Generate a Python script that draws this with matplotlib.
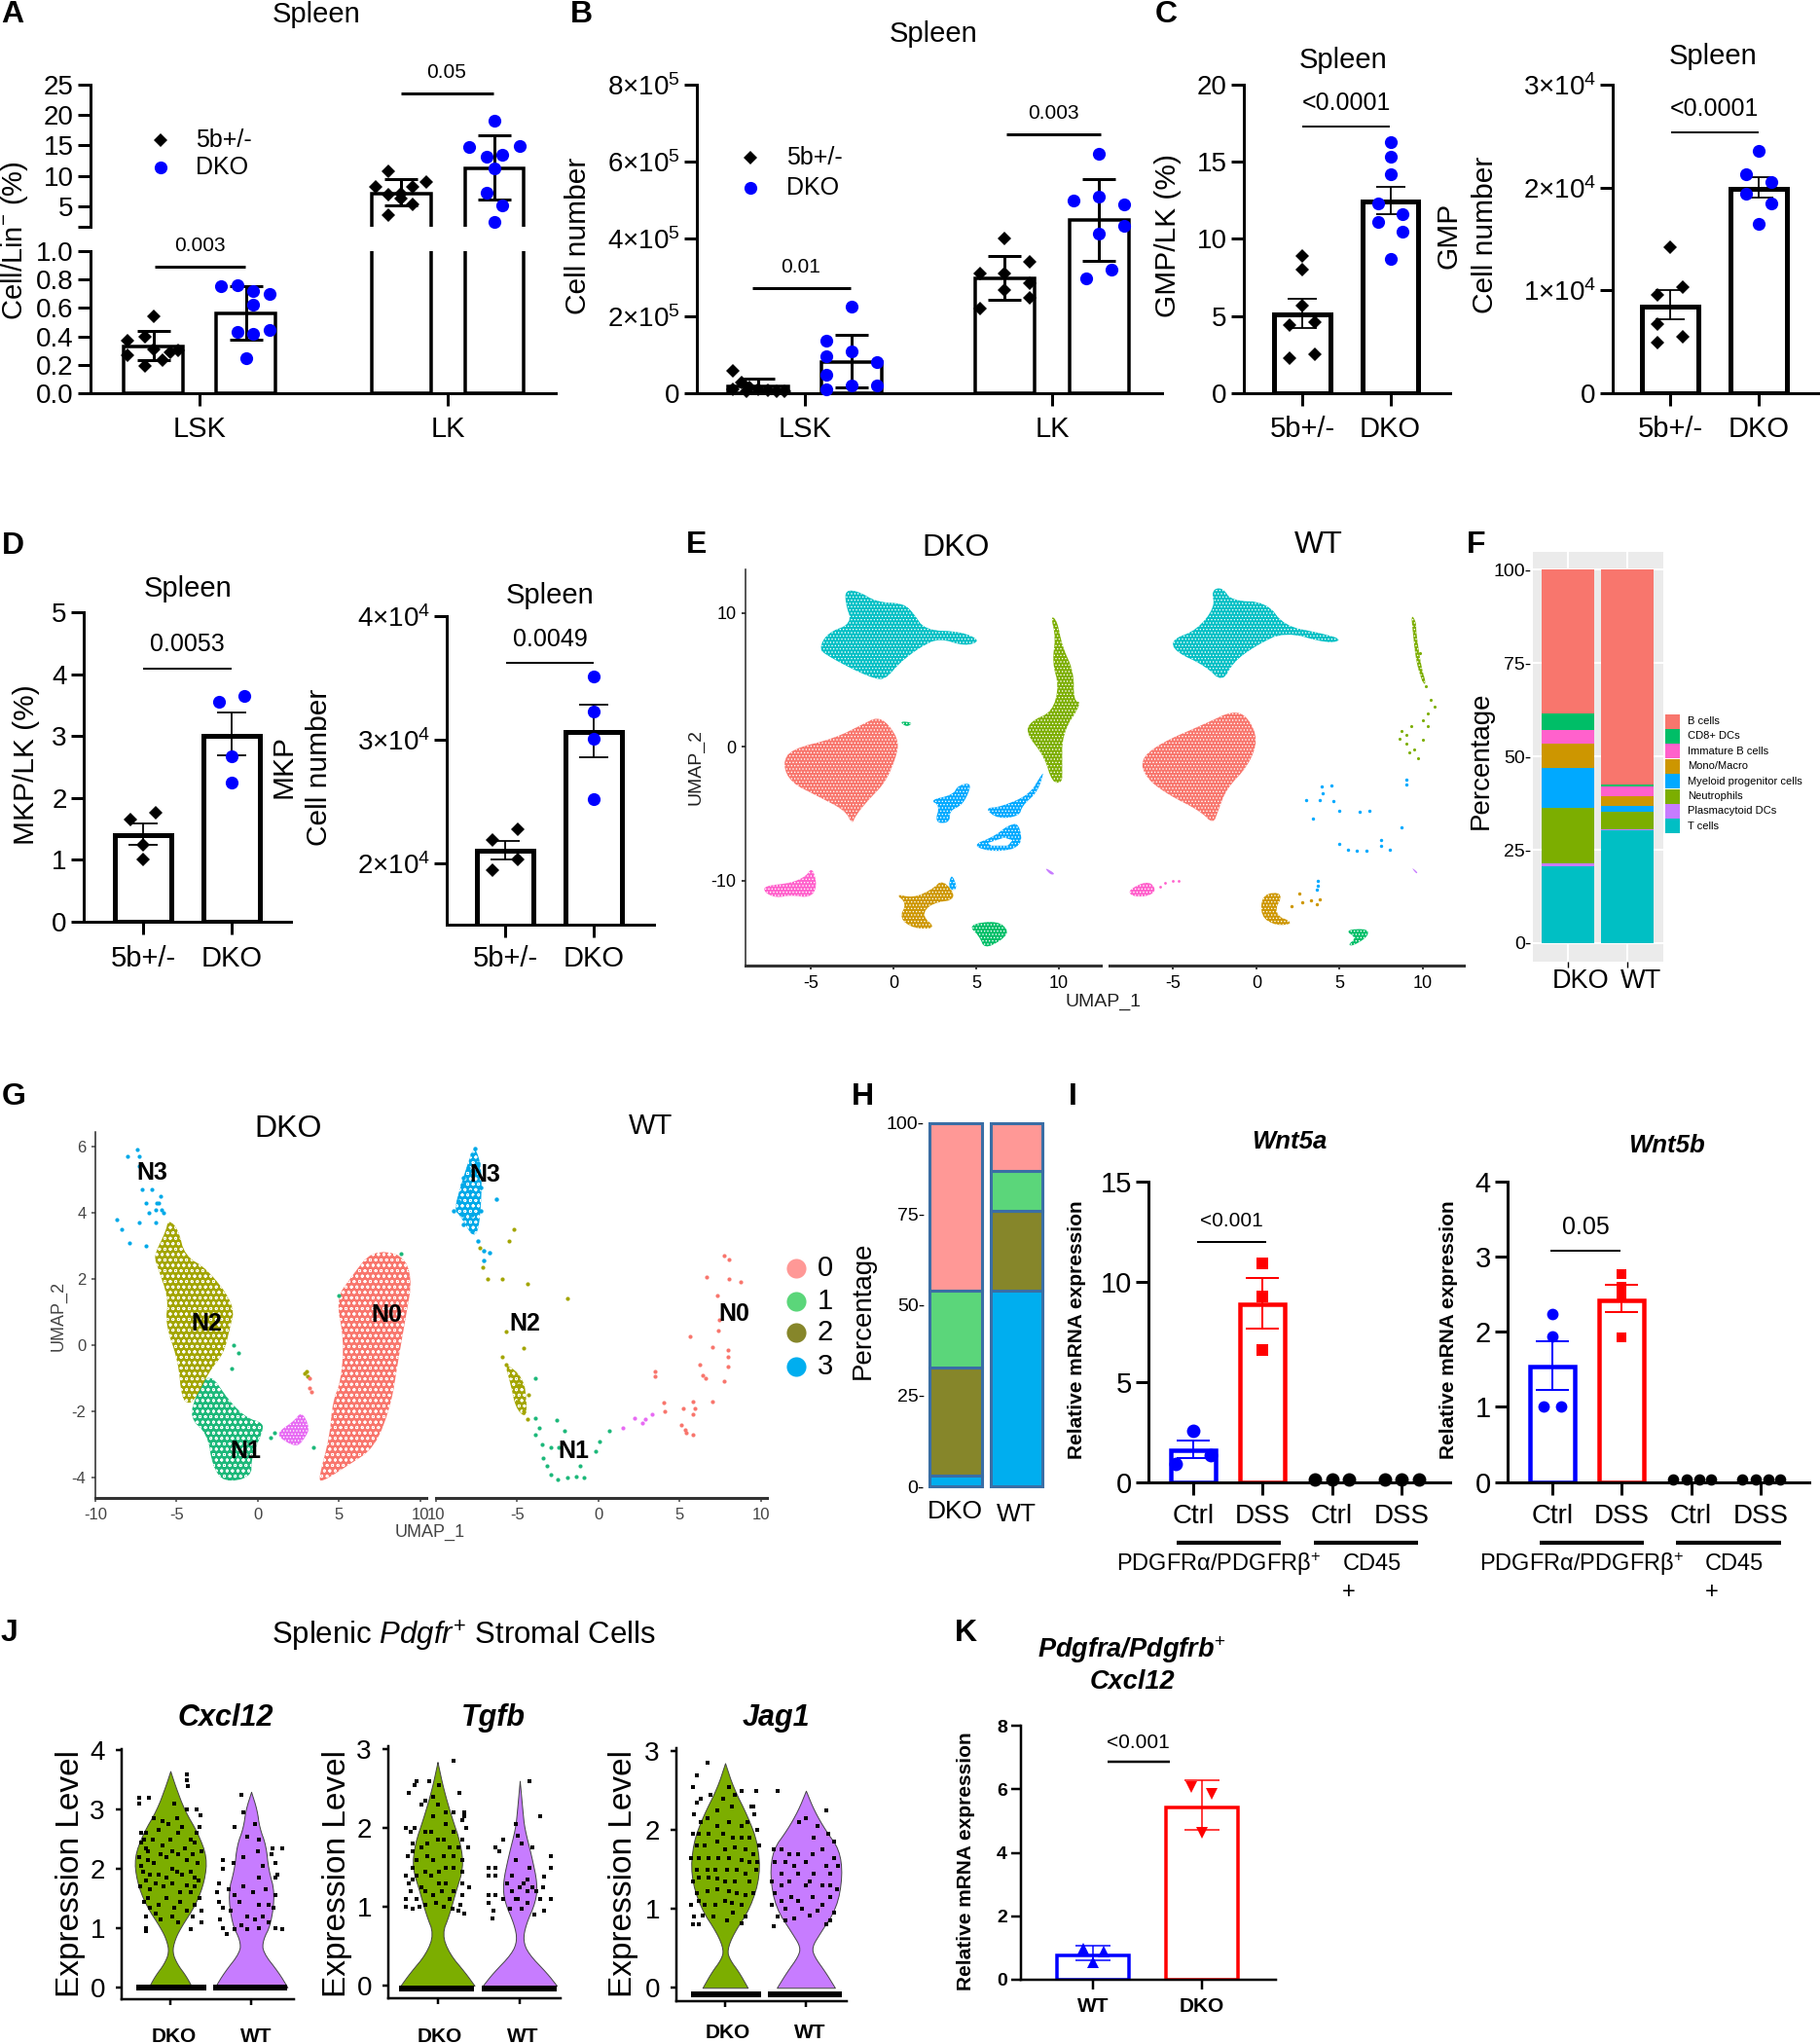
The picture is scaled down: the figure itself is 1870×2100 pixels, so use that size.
import numpy as np
import matplotlib
matplotlib.use("Agg")
import matplotlib.pyplot as plt

plt.rcParams['font.family'] = ['Liberation Sans', 'DejaVu Sans']
plt.rcParams['mathtext.fontset'] = 'custom'
plt.rcParams['mathtext.rm'] = 'Liberation Sans'
plt.rcParams['mathtext.it'] = 'Liberation Sans:italic'
plt.rcParams['mathtext.bf'] = 'Liberation Sans:bold'
plt.rcParams['mathtext.bfit'] = 'Liberation Sans:italic:bold'
plt.rcParams['mathtext.default'] = 'regular'
plt.rcParams['axes.unicode_minus'] = False
plt.rcParams['hatch.linewidth'] = 0.6

W, H = 1870, 2100
BLUE, RED = '#0000FF', '#FF0000'

# ---- A: Cell/Lin- (%)
a_means = [0.33, 0.565, 7.1, 11.2]
a_lo = [0.23, 0.38, 5.2, 6.1]
a_hi = [0.435, 0.755, 9.5, 16.6]
a1_dx = [0, -.28, -.09, -.28, 0, .27, -.09, .1, .18]
a1_y = [.54, .37, .40, .27, .31, .30, .19, .23, .29]
a2_dx = [-.27, -.09, .08, .26, .08, -.09, .08, .26, 0]
a2_y = [.75, .76, .72, .70, .62, .43, .42, .445, .245]
a3_dx = [-.14, .27, -.27, .13, 0, -.14, .13, 0, -.14]
a3_y = [10.7, 8.9, 8.1, 8.2, 7.0, 6.9, 5.3, 6.2, 3.5]
a4_dx = [0, -.27, .27, -.09, .08, 0, -.09, .08, 0]
a4_y = [19, 14.8, 14.9, 13.2, 13.4, 11.2, 7.2, 5.2, 2.4]

# ---- B: cell number, in units of 1e5
b_means = [.17, .82, 2.97, 4.48]
b_lo = [.03, .15, 2.42, 3.43]
b_hi = [.37, 1.52, 3.55, 5.55]
b1_dx = [-.27, -.18, -.27, -.09, 0, .1, .2, .28, -.12]
b1_y = [.59, .28, .11, .15, .11, .07, .06, .06, .05]
b2_dx = [0, -.27, 0, -.27, .27, -.27, 0, .27, -.27]
b2_y = [2.24, 1.37, 1.09, .95, .82, .49, .21, .19, .11]
b3_dx = [0, .27, -.27, 0, .27, 0, .27, -.27]
b3_y = [4.02, 3.4, 3.1, 3.1, 2.84, 2.67, 2.48, 2.2]
b4_dx = [0, -.27, 0, .27, .27, 0, .13, -.14]
b4_y = [6.2, 5.0, 5.1, 4.9, 4.35, 4.15, 3.2, 2.97]

# ---- C
c1_means = [5.1, 12.45]
c1_lo = [4.2, 11.6]
c1_hi = [6.15, 13.4]
c1a_dx = [0, 0, 0, .14, -.14, .14, -.14]
c1a_y = [8.9, 8.0, 5.7, 4.6, 4.4, 2.5, 2.3]
c1b_dx = [0, 0, 0, -.14, .14, -.14, .14, 0]
c1b_y = [16.3, 15.3, 14.2, 12.3, 11.6, 11.1, 10.5, 8.7]
c2_means = [.843, 1.99]
c2_lo = [.717, 1.905]
c2_hi = [1.0, 2.1]
c2a_dx = [0, .14, -.14, -.14, .14, -.14]
c2a_y = [1.415, 1.03, .96, .67, .55, .49]
c2b_dx = [0, -.14, .14, -.14, .14, 0]
c2b_y = [2.36, 2.13, 2.05, 1.94, 1.85, 1.65]

# ---- D
d1_means = [1.4, 3.0]
d1_lo = [1.24, 2.69]
d1_hi = [1.59, 3.38]
d1a_dx = [.14, -.14, 0, 0]
d1a_y = [1.76, 1.65, 1.24, 1.0]
d1b_dx = [.14, -.14, 0, 0]
d1b_y = [3.65, 3.55, 2.67, 2.25]
d2_means = [2.1, 3.06]
d2_lo = [2.03, 2.86]
d2_hi = [2.18, 3.28]
d2a_dx = [.14, -.14, .14, -.14]
d2a_y = [2.27, 2.19, 2.03, 1.94]
d2b_dx = [0, 0, 0, 0]
d2b_y = [3.51, 3.23, 3.01, 2.52]

# ---- E: UMAP outlines, DKO
e_d_t_x = [-2.9, -2.1, -1, .6, 1.2, 1.9, 4.1, 5.3, 4.3, 2.8, 1.7, .4, -.5, -1.2, -2.5, -4, -4.5, -4, -2.5, -2.9]
e_d_t_y = [11.7, 11.6, 10.8, 10.7, 10, 8.7, 8.6, 7.9, 7.5, 8.1, 7.5, 6.3, 5, 5.1, 5.8, 6.8, 7.3, 8.5, 9.2, 10.7]
e_d_b_x = [-1, -.3, .35, .1, -.5, -1.6, -2.3, -2.5, -2.9, -4.5, -6.2, -6.7, -6.2, -3.6, -1.8]
e_d_b_y = [2.2, 1.7, .35, -1, -2.7, -4.1, -5.2, -5.8, -4.8, -3.75, -2.7, -1.3, -.2, .6, 1.7]
e_d_n_x = [9.5, 9.9, 10.2, 10.9, 10.9, 11.4, 10.2, 10.2, 10.2, 9.6, 9.1, 8, 8.3, 9.6, 10, 9.6, 9.8]
e_d_n_y = [9.8, 9.4, 7.5, 5.6, 3.4, 3.3, 1, -1.7, -2.7, -2.7, -.7, 1, 1.9, 2.6, 4.5, 6.3, 8.2]
e_d_m1_x = [4.7, 4.5, 4.1, 3.4, 3.4, 2.5, 2.8, 2.2, 3.6, 3.9]
e_d_m1_y = [-2.7, -3.6, -4.4, -4.8, -5.7, -5.7, -4.4, -4, -3.6, -2.9]
e_d_m2_x = [9.1, 8.7, 7.8, 7.6, 6.3, 5.5, 6.5, 8.2, 8.9]
e_d_m2_y = [-1.9, -3.4, -4.4, -5.2, -5.4, -4.6, -4.5, -3.6, -2.2]
e_d_m3_x = [7.6, 7.8, 6.1, 4.7, 6.1, 6.9]
e_d_m3_y = [-5.7, -7.5, -7.9, -7.4, -6.7, -5.9]
e_d_m3h_x = [6.7, 7.2, 6.9, 5.9, 5.7]
e_d_m3h_y = [-6.8, -7, -7.4, -7.4, -7.2]
e_d_m4_x = [3.5, 3.9, 3.3]
e_d_m4_y = [-9.4, -10.7, -10.7]
e_d_i_x = [-4.9, -4.6, -5, -6.2, -7.1, -7.8, -7.8, -6.2, -5.3]
e_d_i_y = [-9, -10.4, -11.3, -11.1, -11.3, -10.9, -10.4, -10.2, -9.7]
e_d_mono_x = [3, 3.9, 2.3, 1.7, 2.6, 1.2, .35, .8, .1, 1.2, 2.3]
e_d_mono_y = [-9.9, -11.4, -11.7, -12.6, -13.6, -13.6, -12.8, -11.7, -11, -11.3, -10.7]
e_d_cd8_x = [4.5, 6.3, 7, 6.5, 5.5, 5.2]
e_d_cd8_y = [-13.3, -13, -13.8, -14.5, -15.1, -14.2]
e_d_cd8b_x = [.35, 1.2, .8]
e_d_cd8b_y = [1.9, 1.8, 1.45]
e_d_p_x = [9.1, 9.8, 9.5]
e_d_p_y = [-9, -9.5, -9.6]

# ---- E: UMAP outlines and sparse cells, WT
e_w_t_x = [-2.7, -2.05, -1.5, .6, 1.7, 3.8, 5.2, 4.3, 1.7, -.1, -1.4, -2.05, -3.1, -4.9, -5.1, -3.6, -2.5]
e_w_t_y = [11.7, 11.9, 10.9, 10.8, 9, 8.5, 8, 7.7, 8.6, 7.5, 6.3, 4.8, 6.05, 7.1, 8, 8.7, 10.4]
e_w_b_x = [-1.4, -.5, .1, -.5, -1.8, -2.3, -2.6, -3.4, -5.3, -6.6, -7, -5.8, -3.1]
e_w_b_y = [2.7, 2.2, .5, -1.45, -3.15, -4.8, -5.8, -4.8, -3.6, -2.4, -1, .25, 1.7]
e_w_n_x = [9.3, 9.6, 9.6, 9.9, 10.2, 10, 9.6, 9.4]
e_w_n_y = [9.9, 9.3, 8.5, 6, 4.7, 4.7, 6.3, 8.5]
e_w_ns_x = [9.8, 10, 10.2, 10.5, 10.7, 10.3, 10, 9.3, 8.7, 8.6, 9, 9.5, 9.7, 9, 10, 10.3, 9.2]
e_w_ns_y = [7, 5, 4.5, 3.5, 3, 2.5, 2, 1.5, 1.2, .6, .2, -.2, -.9, .9, .5, 1.5, -.4]
e_w_ms_x = [3.9, 4.5, 4, 3, 3.8, 4.6, 5, 6.2, 6.8, 3.4, 8.7, 7.5, 7.5, 5, 5.5, 6, 6.6, 8, 9, 9, 3.7, 3.7, 3.65]
e_w_ms_y = [-3, -2.9, -3.5, -4, -4, -4.1, -4.8, -4.9, -4.8, -5.4, -6, -7, -7.4, -7.3, -7.7, -7.8, -7.8, -7.7, -2.5, -2.8, -10, -10.4, -10.7]
e_w_i_x = [-7.7, -6.5, -6, -6.5, -7.5]
e_w_i_y = [-10.7, -10, -10.7, -11.2, -11.2]
e_w_is_x = [-5.5, -5, -4.7, -5.8]
e_w_is_y = [-10.2, -10, -10, -10.5]
e_w_mono_x = [.35, 1.65, 1, 2.3, 1.2, .25]
e_w_mono_y = [-11, -10.9, -12.5, -13.2, -13.4, -12.7]
e_w_monos_x = [2.75, 3.8, 3.6, 2.1, 3.3, 2.6]
e_w_monos_y = [-11.6, -11.4, -11.75, -11.9, -11.5, -11]
e_w_cd8_x = [6.7, 6.7, 5.8, 5.5, 6, 5.3]
e_w_cd8_y = [-13.6, -14.2, -14.9, -14.8, -14.3, -13.7]
e_w_p_x = [9.3, 9.7, 9.6]
e_w_p_y = [-9, -9.4, -9.5]

# ---- F: stacked percentages, bottom to top
f_types = ['T cells', 'Plasmacytoid DCs', 'Neutrophils', 'Myeloid progenitor cells',
           'Mono/Macro', 'Immature B cells', 'CD8+ DCs', 'B cells']
f_colors = ['#00BFC4', '#C77CFF', '#7CAE00', '#00A9FF', '#CD9600', '#FF61CC', '#00BE67', '#F8766D']
f_dko = [20.6, .7, 15, 10.6, 6.6, 3.6, 4.4, 38.6]
f_wt = [30.1, .5, 4.6, 1.5, 2.6, 2.6, .6, 57.5]

# ---- G: DKO
g_d_n3_x = [-7.4, -8, -7.3, -7.3, -7.1, -6.5, -6, -6.9, -6.2, -5.9, -5.8, -6.7, -7.3, -8.7, -8.4, -7.9, -6.9, -6.3, -6.1, -6.3]
g_d_n3_y = [5.9, 5.7, 5.7, 5.4, 4.7, 4.7, 4.5, 4.3, 4.3, 4.1, 4, 4, 3.7, 3.8, 3.5, 3.1, 3, 3.7, 4.3, 4.1]
g_d_n2_x = [-5.5, -4.9, -4.5, -3.1, -1.4, -1.75, -2.1, -3, -3.7, -4.2, -4.7, -4.9, -5.7, -5.5, -6.2, -6.4, -5.7]
g_d_n2_y = [3.8, 3.5, 2.7, 2.3, 1.2, .45, -.25, -.8, -1.5, -1.8, -1.6, -.5, .65, 1.4, 2.4, 2.7, 3.4]
g_d_n1_x = [-3, -1.75, -.7, .3, .3, -.4, -.4, -2.1, -2.8, -3.1, -4.2, -3.8]
g_d_n1_y = [-.8, -1.7, -2.2, -2.35, -2.6, -3.4, -4, -4.15, -3.65, -2.7, -2.2, -1.5]
g_d_n0_x = [7, 8.9, 9.5, 9.1, 8.6, 8.2, 7.2, 5.5, 3.9, 3.75, 4.4, 4.6, 5.1, 5.3, 4.8, 5.8]
g_d_n0_y = [2.85, 2.75, 2, .85, -.55, -1.8, -3.1, -3.65, -4.15, -4, -2.8, -1.7, -1.1, .15, 1.4, 2.1]
g_d_pk_x = [2.7, 3.2, 2.9, 2.4, 1.3, 1.3, 2.2]
g_d_pk_y = [-2, -2.5, -2.8, -3.1, -2.8, -2.6, -2.3]
g_d_green_x = [1, 3.4, -1.5, -1.2, -1.6, 5, 8.8, .8]
g_d_green_y = [-2.65, -3.1, 0, -.25, -.7, 1.5, 2.75, -2.8]
g_d_olive_x = [3, 2.85, 3.05]
g_d_olive_y = [-.8, -.85, -.95]
g_d_salmon_x = [3.2, 3.2, 3.3]
g_d_salmon_y = [-1, -1.3, -1.4]

# ---- G: WT
g_w_n3_x = [-7.6, -7.8, -7.4, -8, -8.3, -8.4, -7.9, -7.6, -7.25, -8.6, -8.95, -8.4, -7.8, -7.25, -8.3, -7.8, -7.4, -7.05, -6.7, -7.05, -6.3]
g_w_n3_y = [5.95, 5.75, 5.5, 5.35, 5.05, 4.85, 4.65, 4.5, 4.75, 4.35, 4.05, 3.95, 3.95, 4.05, 3.65, 3.45, 3.15, 2.85, 2.8, 2.55, 4.4]
g_w_n3p_x = [-7.6, -7.2, -7.2, -7.4, -7.8, -8.5, -8.9, -8.3, -7.9]
g_w_n3p_y = [6, 5.4, 4.4, 3.4, 3.3, 3.9, 4.1, 5.1, 5.7]
g_w_n2_x = [-5.2, -5.5, -7.3, -7.1, -6.85, -5.95, -4.4, -1.9, -5.7, -4.6, -5.9, -5.7, -5.4, -4.9, -4.3, -5, -4.6, -4.4]
g_w_n2_y = [3.5, 3.15, 2.95, 2.35, 2, 2, 1.85, 1.4, .4, -.1, -.35, -.6, -.9, -1.2, -1.5, -1.7, -2, -2.25]
g_w_n2p_x = [-5.8, -4.6, -4.4, -4.5, -5.1, -5.4]
g_w_n2p_y = [-.5, -1, -1.8, -2.2, -1.9, -1.2]
g_w_n1_x = [-3.9, -2.6, -2.1, -3.65, -3.9, -3.5, -2.95, -3.4, -3.2, -2.95, -2.5, -1.9, -1.4, -.9, -1.15, -.2, .05, .65, -3.9, -2.45]
g_w_n1_y = [-2.2, -2.27, -2.6, -2.5, -2.7, -3, -3.1, -3.4, -3.65, -3.9, -4.05, -4, -3.98, -4, -3.65, -3.2, -2.9, -2.6, -1, -3.1]
g_w_pk_x = [1.5, 2.2, 2.7, 2.9, 3.3]
g_w_pk_y = [-2.5, -2.2, -2.35, -2.25, -2.1]
g_w_n0_x = [7.7, 8.05, 6.65, 8.05, 8.75, 7.3, 7.45, 7.35, 5.65, 7, 7.95, 7.95, 6.2, 7.95, 6.4, 6.6, 3.5, 3.5, 7.7, 7, 5.8, 5.95, 4, 4.1, 5.2, 5.8, 5.1, 5.3, 5.8, 5.4]
g_w_n0_y = [2.7, 2.6, 2.05, 2, 1.9, 1.5, .75, .45, .25, -.05, -.15, -.35, -.6, -.65, -.9, -1, -.8, -.95, -1.1, -1.7, -1.7, -1.9, -1.75, -2, -1.9, -2.1, -2.4, -2.55, -2.7, -2.65]

# ---- H: stacked percentages, cluster 3 at the bottom
h_colors = ['#00AEEF', '#86862A', '#5BD67A', '#FF9896']
h_dko = [2.9, 29.9, 21.1, 46.1]
h_wt = [53.9, 22, 10.9, 13.2]

# ---- I
i1_means = [1.56, 8.84]
i1_lo = [1.18, 7.63]
i1_hi = [2.08, 10.16]
i1a_dx = [0, .25, -.25]
i1a_y = [2.53, 1.35, .92]
i1b_y = [10.9, 9.24, 6.6]
i2_means = [1.53, 2.42]
i2_lo = [1.23, 2.26]
i2_hi = [1.87, 2.62]
i2a_dx = [0, 0, -.13, .13]
i2a_y = [2.24, 1.94, 1.0, 1.0]
i2b_y = [2.76, 2.6, 2.47, 1.92]
cd45_dx3 = [-.24, 0, .25]
cd45_y3 = [.1, .1, .1]
cd45_dx4 = [-.26, -.07, .12, .28]
cd45_y4 = [.03, .03, .03, .03]

# ---- J: violin outlines (level, half width) and cells
vl_c_d = [0, .2, .4, .6, .8, 1, 1.4, 1.8, 2.2, 2.6, 3, 3.4, 3.65]
vw_c_d = [.27, .19, .08, .02, .05, .12, .31, .42, .45, .34, .17, .06, 0]
vl_c_w = [0, .25, .6, .8, 1.07, 1.6, 2, 2.4, 2.7, 3, 3.3]
vw_c_w = [.45, .34, .14, .14, .24, .29, .21, .18, .1, .07, 0]
vl_t_d = [0, .16, .41, .66, .9, 1.2, 1.5, 1.8, 2.14, 2.5, 2.84]
vw_t_d = [.45, .34, .14, .05, .14, .22, .31, .28, .17, .07, 0]
vl_t_w = [0, .16, .41, .58, .78, 1.07, 1.3, 1.65, 2, 2.2, 2.6]
vw_t_w = [.45, .33, .1, .035, .07, .19, .21, .14, .055, .035, 0]
vl_j_d = [0, .2, .36, .48, .69, 1.02, 1.43, 1.84, 2.17, 2.54, 2.85]
vw_j_d = [.28, .17, .055, .02, .1, .31, .43, .4, .28, .1, 0]
vl_j_w = [0, .2, .4, .52, .69, 1.02, 1.43, 1.76, 2, 2.25, 2.5]
vw_j_w = [.36, .24, .1, .07, .17, .38, .45, .41, .24, .1, 0]

pc_c_d_x = [-.38, -.38, -.26, .2, .2, .22, .2, .33, .37, .36, -.2, -.3, -.32, -.36, -.28, -.1, .05, 0, -.1, .1, .25, .3, .38, -.38, -.2, -.05, .1, .2, .34, -.34, -.15, .02, .15, .3, -.37, -.25, -.08, .12, .25, .36, -.33, -.15, .05, .2, .38, -.3, -.12, .1, -.3, -.3, .25, .38,
            -.36, -.3, -.22, -.15, -.02, .08, .15, .32, .28, .18, .02, -.12, -.28, -.36, -.25, -.05, .08, .25, .35, -.3, -.18, .02, .2, .3, -.28, -.05, .12, .3, -.18, .02, .28, -.25]
pc_c_d_y = [3.2, 3.1, 3.2, 3.6, 3.5, 3.4, 3, 3, 2.9, 2.7, 2.85, 2.6, 2.5, 2.45, 2.3, 2.8, 3.1, 2.5, 2.4, 2.6, 2.5, 2.45, 2.3, 2.2, 2.1, 2.2, 2.25, 2.15, 2.1, 1.95, 1.9, 2, 1.9, 1.85, 1.7, 1.65, 1.7, 1.6, 1.6, 1.5, 1.45, 1.4, 1.35, 1.3, 1.3, 1.2, 1.15, 1.1, 1, .95, .98, 1.1,
            2.6, 2.35, 2.5, 2.65, 2.75, 2.85, 2.7, 2.6, 2.25, 2.35, 2.3, 2.25, 2.15, 2.05, 1.9, 1.85, 1.95, 1.95, 1.8, 1.8, 1.75, 1.75, 1.72, 1.7, 1.5, 1.5, 1.45, 1.4, 1.25, 1.2, 1.2, 1.35]
pc_c_w_x = [-.12, -.1, -.2, .05, -.05, .1, .38, .26, .25, -.35, -.1, .08, .3, -.35, .32, -.4, .1, -.1, .3, -.42, .02, .3, -.4, -.15, .1, .28, -.35, -.25, -.05, .15, -.38, -.35, .1, .3, .38, -.3, -.05,
            -.22, .15, -.28, .18, -.2, .22, -.12, .22, -.2, .05]
pc_c_w_y = [3.25, 2.95, 2.7, 2.75, 2.55, 2.5, 2.35, 2.35, 2.25, 2.15, 2.2, 2.3, 2.1, 2, 1.9, 1.75, 1.85, 1.7, 1.85, 1.6, 1.6, 1.55, 1.45, 1.45, 1.4, 1.35, 1.35, 1.3, 1.2, 1.2, 1.15, 1, 1, 1, .98, .9, .98,
            2.1, 2.05, 1.65, 1.65, 1.55, 1.4, 1.05, 1.1, .98, 1.15]
pc_t_d_x = [.2, -.25, -.28, -.35, .27, -.05, -.15, 0, .33, .3, .33, -.38, -.32, .1, .35, -.15, 0, .3, -.2, .15, .37, -.36, -.25, -.05, .08, .3, -.38, -.3, -.15, .02, .2, -.35, -.2, .1, .3, .38, -.38, -.25, -.05, .15, .3, -.38, -.3, -.15, .08, .28, .25, .33,
            -.1, .02, -.2, -.05, .1, .2, -.28, -.08, .2, -.3, -.12, .08, .25, -.3, -.12, .2, -.3, -.08, .1, .3, -.25, .02, .2, -.32, -.15, .05, -.22, -.02, .18]
pc_t_d_y = [2.85, 2.6, 2.55, 2.45, 2.45, 2.4, 2.35, 2.3, 2.2, 2.1, 2.15, 2, 1.95, 2.05, 2, 1.95, 1.85, 1.85, 1.75, 1.75, 1.75, 1.65, 1.6, 1.6, 1.65, 1.6, 1.4, 1.5, 1.45, 1.45, 1.5, 1.3, 1.25, 1.3, 1.3, 1.25, 1.1, 1.1, 1.15, 1.1, 1.15, 1, .98, 1.03, 1, 1.02, .95, .92,
            2.6, 2.55, 2.3, 2.15, 2.2, 2.2, 2, 1.95, 1.95, 1.8, 1.8, 1.85, 1.75, 1.7, 1.65, 1.65, 1.35, 1.4, 1.5, 1.45, 1.4, 1.3, 1.2, 1.2, 1.2, 1.2, 1, 1.05, .98]
pc_t_w_x = [.12, .25, -.05, -.3, -.2, -.25, -.02, .02, .15, .38, .38, -.38, -.3, -.38, -.3, .3, -.1, .1, 0, -.1, .15, .25, .38, -.38, -.3, -.38, -.05, .1, .02, -.32, .3, -.33, .18,
            -.05, .12, -.15, .05, -.2, .2, -.12, .1, .28, -.02]
pc_t_w_y = [2.6, 2.15, 2.05, 1.75, 1.85, 1.7, 1.9, 1.8, 1.75, 1.65, 1.5, 1.5, 1.5, 1.4, 1.4, 1.38, 1.4, 1.35, 1.25, 1.2, 1.25, 1.1, 1.1, 1.15, 1.15, 1.05, 1.1, 1.05, .98, .95, .95, .85, .9,
            1.6, 1.5, 1.3, 1.3, 1.1, 1.2, .98, 1.2, 1.25, 1.1]
pc_j_d_x = [-.22, -.35, -.4, .2, .38, -.35, -.02, .35, -.38, -.1, .08, .36, -.3, .05, .2, .4, -.4, -.2, .1, .3, -.35, -.1, 0, .25, .42, -.42, -.2, .05, .3, -.35, -.12, .15, .38, -.4, -.2, 0, .3, -.35, -.1, .15, .35, -.42, -.25, 0, .2, -.38, -.15, .1, .25, -.4, -.33, .2,
            -.3, .05, -.18, .12, -.22, -.1, .28, .32, -.32, -.02, .2, -.25, .12, .35, -.32, -.08, .2, .4, -.22, .02, .25, -.32, -.1, .12, -.22, .05, .25, -.32, -.12, .08, -.28, .02]
pc_j_d_y = [2.85, 2.7, 2.55, 2.5, 2.5, 2.35, 2.4, 2.3, 2.2, 2.25, 2.3, 2.2, 2.1, 2.1, 2.05, 2, 1.95, 1.95, 1.9, 1.9, 1.8, 1.85, 1.75, 1.75, 1.8, 1.65, 1.65, 1.65, 1.6, 1.5, 1.5, 1.5, 1.5, 1.35, 1.4, 1.35, 1.35, 1.2, 1.25, 1.2, 1.2, 1.05, 1.05, 1.1, 1.05, .9, .9, .95, .9, .8, .8, .82,
            2.4, 2.55, 2.45, 2.45, 2.15, 2.05, 2.1, 2.3, 1.95, 1.95, 1.9, 1.8, 1.78, 1.7, 1.65, 1.65, 1.62, 1.6, 1.5, 1.5, 1.45, 1.4, 1.38, 1.35, 1.22, 1.22, 1.18, 1.1, 1.05, 1.08, .92, .85]
pc_j_w_x = [-.35, .25, 0, -.08, .15, .28, .35, -.4, -.2, -.1, .08, .2, .35, -.38, -.25, 0, .4, -.3, -.1, .1, .3, -.42, -.2, 0, .2, .38, -.38, -.18, .08, .3, -.42, -.25, -.05, .15, .35, -.35, -.15, .3, -.4, .25,
            -.3, .1, -.15, .25, -.3, .05, .3, -.3, -.1, .2, .05, -.25]
pc_j_w_y = [2.5, 2.25, 2.15, 2.1, 2.05, 1.95, 1.85, 1.75, 1.7, 1.7, 1.7, 1.75, 1.65, 1.6, 1.6, 1.6, 1.55, 1.45, 1.45, 1.45, 1.45, 1.35, 1.35, 1.3, 1.3, 1.25, 1.2, 1.15, 1.15, 1.15, 1.05, 1, 1, .98, .95, .9, .88, .85, .78, .8,
            1.75, 1.9, 1.55, 1.55, 1.3, 1.35, 1.3, 1.1, 1.1, 1.05, .92, .85]
zero_d_x = [-.39, -.34, -.29, -.24, -.19, -.14, -.09, -.04, .01, .06, .11, .16, .21, .26, .31, .36, .41]
zero_w_x = [-.43, -.37, -.31, -.25, -.19, -.13, -.07, -.01, .05, .11, .17, .23, .29, .35, .41]

# ---- K
k_means = [.78, 5.44]
k_lo = [.6, 4.71]
k_hi = [1.06, 6.27]
k1_dx = [-.09, .095, 0]
k1_y = [.98, .88, .54]
k2_dx = [-.1, .09, 0]
k2_y = [6.07, 5.85, 4.63]

fig = plt.figure(figsize=(W / 100, H / 100), dpi=100, facecolor='white')
ov = fig.add_axes([0, 0, 1, 1])
ov.set_xlim(0, W)
ov.set_ylim(H, 0)
ov.axis('off')
ov.set_zorder(10)


def px_axes(x0, y_top, x1, y_bot):
    return fig.add_axes([x0 / W, 1 - y_bot / H, (x1 - x0) / W, (y_bot - y_top) / H])


def txt(x, y, s, size=21, rot=0, **kw):
    ov.text(x, y, s, fontsize=size, rotation=rot, ha=kw.pop('ha', 'center'), va=kw.pop('va', 'center'), **kw)


def sig(x0, x1, y, s, tx, ty, size=15, lw=2.0):
    ov.plot([x0, x1], [y, y], color='black', lw=lw * .72, solid_capstyle='butt')
    txt(tx, ty, s, size)


def clean(ax, lw=3, tl=13, size=20, pad=3):
    for k in ('top', 'right'):
        ax.spines[k].set_visible(False)
    for k in ('left', 'bottom'):
        ax.spines[k].set_linewidth(lw * .72)
    ax.tick_params(length=tl * .72, width=lw * .72, labelsize=size, pad=pad)
    ax.patch.set_alpha(0)


def xmap(ax, x0, x1, c0, sp):
    ax.set_xlim((x0 - c0) / sp, (x1 - c0) / sp)


def bars(ax, xs, means, lo, hi, colors, width, elw, errlw, cap):
    ax.bar(xs, means, width, facecolor='white', edgecolor=colors, linewidth=elw * .72, zorder=2)
    for x, m, l, h, c in zip(xs, means, lo, hi, colors):
        ax.errorbar(x, m, yerr=[[m - l], [h - m]], color=c, lw=errlw * .72, capsize=cap,
                    capthick=errlw * .72, zorder=3)


def dots(ax, x, dx, y, marker, color, ms):
    ax.plot(x + np.array(dx), y, ls='', marker=marker, color=color, ms=ms, mew=0, clip_on=False, zorder=5)


def rounded(x, y, closed=True, n=2):
    # corner cutting, only rounds the hand read outlines when drawing
    x, y = np.array(x, float), np.array(y, float)
    for _ in range(n):
        if closed:
            x2, y2 = np.roll(x, -1), np.roll(y, -1)
            x = np.column_stack([.75 * x + .25 * x2, .25 * x + .75 * x2]).ravel()
            y = np.column_stack([.75 * y + .25 * y2, .25 * y + .75 * y2]).ravel()
        else:
            xa = np.column_stack([.75 * x[:-1] + .25 * x[1:], .25 * x[:-1] + .75 * x[1:]]).ravel()
            ya = np.column_stack([.75 * y[:-1] + .25 * y[1:], .25 * y[:-1] + .75 * y[1:]]).ravel()
            x = np.r_[x[0], xa, x[-1]]
            y = np.r_[y[0], ya, y[-1]]
    return x, y


# ---- panel A, broken axis
a_pos = [0, 1, 2.68, 3.69]
a_top = px_axes(93, 87, 571, 233)
a_low = px_axes(93, 258, 571, 404)
for ax in (a_top, a_low):
    xmap(ax, 93, 571, 157.5, 95)
    bars(ax, a_pos, a_means, a_lo, a_hi, ['black'] * 4, .64, 3.5, 3, 12)
a_top.set_ylim(1.6, 25)
a_low.set_ylim(0, 1.0)
a_top.set_yticks([1.6, 5, 10, 15, 20, 25], ['', '5', '10', '15', '20', '25'])
a_low.set_yticks([0, .2, .4, .6, .8, 1.0], ['0.0', '0.2', '0.4', '0.6', '0.8', '1.0'])
a_top.set_xticks([])
a_low.set_xticks([.5, 3.185], ['LSK', 'LK'])
clean(a_top)
clean(a_low)
a_low.tick_params(axis='x', labelsize=21, pad=7.5)
a_top.spines['bottom'].set_visible(False)
dots(a_low, a_pos[0], a1_dx, a1_y, 'D', 'black', 7)
dots(a_low, a_pos[1], a2_dx, a2_y, 'o', BLUE, 9.5)
dots(a_top, a_pos[2], a3_dx, a3_y, 'D', 'black', 7)
dots(a_top, a_pos[3], a4_dx, a4_y, 'o', BLUE, 9.5)

# ---- panel B
b_pos = [0, 1, 2.64, 3.65]
ax = px_axes(716, 87, 1194, 404)
xmap(ax, 716, 1194, 779, 96)
bars(ax, b_pos, np.array(b_means) * 1e5, np.array(b_lo) * 1e5, np.array(b_hi) * 1e5, ['black'] * 4, .64, 3.5, 3, 12)
ax.set_ylim(0, 8e5)
ax.set_yticks([0, 2e5, 4e5, 6e5, 8e5], ['0', '2×10$^{5}$', '4×10$^{5}$', '6×10$^{5}$', '8×10$^{5}$'])
ax.set_xticks([.5, 3.15], ['LSK', 'LK'])
clean(ax)
ax.tick_params(axis='x', labelsize=21, pad=7.5)
dots(ax, b_pos[0], b1_dx, np.array(b1_y) * 1e5, 'D', 'black', 7)
dots(ax, b_pos[1], b2_dx, np.array(b2_y) * 1e5, 'o', BLUE, 9.5)
dots(ax, b_pos[2], b3_dx, np.array(b3_y) * 1e5, 'D', 'black', 7)
dots(ax, b_pos[3], b4_dx, np.array(b4_y) * 1e5, 'o', BLUE, 9.5)


def two_bar(rect, c0, sp, ylim, yt, ytl, means, lo, hi, ax_dx, ay, bx_dx, by, pad=7.5):
    ax = px_axes(*rect)
    xmap(ax, rect[0], rect[2], c0, sp)
    bars(ax, [0, 1], means, lo, hi, ['black', 'black'], .64, 5, 1.8, 11)
    ax.set_ylim(*ylim)
    ax.set_yticks(yt, ytl)
    ax.set_xticks([0, 1], ['5b+/-', 'DKO'])
    clean(ax)
    ax.tick_params(axis='x', labelsize=21, pad=pad)
    dots(ax, 0, ax_dx, ay, 'D', 'black', 7)
    dots(ax, 1, bx_dx, by, 'o', BLUE, 9.5)
    return ax


two_bar((1278, 87, 1490, 404), 1338, 90.5, (0, 20), [0, 5, 10, 15, 20], ['0', '5', '10', '15', '20'],
        c1_means, c1_lo, c1_hi, c1a_dx, c1a_y, c1b_dx, c1b_y)
two_bar((1657, 87, 1869, 404), 1716, 91, (0, 3), [0, 1, 2, 3], ['0', '1×10$^{4}$', '2×10$^{4}$', '3×10$^{4}$'],
        c2_means, c2_lo, c2_hi, c2a_dx, c2a_y, c2b_dx, c2b_y)
two_bar((86, 629, 299, 947), 147, 91, (0, 5), [0, 1, 2, 3, 4, 5], ['0', '1', '2', '3', '4', '5'],
        d1_means, d1_lo, d1_hi, d1a_dx, d1a_y, d1b_dx, d1b_y, pad=8)
two_bar((459, 633, 672, 950), 519, 91, (1.5, 4), [2, 3, 4], ['2×10$^{4}$', '3×10$^{4}$', '4×10$^{4}$'],
        d2_means, d2_lo, d2_hi, d2a_dx, d2a_y, d2b_dx, d2b_y, pad=6)


# ---- panel E
def umap_axes(rect, xlim, ylim, xt, yt, left=True, size=13):
    ax = px_axes(*rect)
    ax.set_xlim(*xlim)
    ax.set_ylim(*ylim)
    ax.set_xticks(xt)
    ax.set_yticks(yt if left else [])
    clean(ax, lw=1.5, tl=4, size=size, pad=4)
    ax.spines['left'].set_visible(left)
    ax.spines['left'].set_color('#222222')
    ax.spines['bottom'].set_color('#333333')
    ax.spines['bottom'].set_linewidth(2.2)
    return ax


def blob(ax, x, y, c, hatch='.....'):
    sx, sy = rounded(x, y)
    ax.fill(sx, sy, facecolor=c, edgecolor='white', lw=0, hatch=hatch, zorder=2)


def pts(ax, x, y, c, s=4):
    ax.scatter(x, y, s=s, color=c, lw=0, zorder=3)


T, PD, NE, MY, MO, IM, CD, BC = f_colors
ELIM = (-16.36, 13.24)
ax = umap_axes((766, 585, 1131, 992), (-8.94, 12.53), ELIM, [-5, 0, 5, 10], [-10, 0, 10])
ax.set_yticklabels(['-10', '0', '10'])
blob(ax, e_d_t_x, e_d_t_y, T)
blob(ax, e_d_b_x, e_d_b_y, BC)
blob(ax, e_d_n_x, e_d_n_y, NE)
for mx, my in ((e_d_m1_x, e_d_m1_y), (e_d_m2_x, e_d_m2_y), (e_d_m3_x, e_d_m3_y), (e_d_m4_x, e_d_m4_y)):
    blob(ax, mx, my, MY)
ax.fill(e_d_m3h_x, e_d_m3h_y, color='white', lw=0, zorder=2.5)
blob(ax, e_d_i_x, e_d_i_y, IM)
blob(ax, e_d_mono_x, e_d_mono_y, MO)
blob(ax, e_d_cd8_x, e_d_cd8_y, CD)
blob(ax, e_d_cd8b_x, e_d_cd8b_y, CD)
blob(ax, e_d_p_x, e_d_p_y, PD, None)

ax = umap_axes((1140, 585, 1504, 992), (-8.83, 12.46), ELIM, [-5, 0, 5, 10], [], left=False)
blob(ax, e_w_t_x, e_w_t_y, T)
blob(ax, e_w_b_x, e_w_b_y, BC)
blob(ax, e_w_n_x, e_w_n_y, NE)
pts(ax, e_w_ns_x, e_w_ns_y, NE, 5)
pts(ax, e_w_ms_x, e_w_ms_y, MY, 6)
blob(ax, e_w_i_x, e_w_i_y, IM)
pts(ax, e_w_is_x, e_w_is_y, IM, 4)
blob(ax, e_w_mono_x, e_w_mono_y, MO)
pts(ax, e_w_monos_x, e_w_monos_y, MO, 6)
blob(ax, e_w_cd8_x, e_w_cd8_y, CD)
blob(ax, e_w_p_x, e_w_p_y, PD, None)

# ---- panel F
ax = px_axes(1575, 567, 1709, 988)
ax.set_facecolor('#EBEBEB')
for s in ax.spines.values():
    s.set_visible(False)
ax.set_xlim(-.59, 1.607)
ax.set_ylim(-4.95, 104.7)
ax.grid(color='white', lw=1.5)
ax.set_axisbelow(True)
bot_d, bot_w = 0, 0
for i, c in enumerate(f_colors):
    ax.bar([0, 1], [f_dko[i], f_wt[i]], .9, bottom=[bot_d, bot_w], color=c, lw=0)
    bot_d += f_dko[i]
    bot_w += f_wt[i]
ax.set_xticks([0, 1], ['', ''])
ax.set_yticks([0, 25, 50, 75, 100], ['0-', '25-', '50-', '75-', '100-'])
ax.tick_params(axis='y', length=0, labelsize=14, pad=1)
ax.tick_params(axis='x', length=4, width=1)
for i, name in enumerate(f_types[::-1]):
    yy = 741 + i * 15.4
    ov.add_patch(plt.Rectangle((1711, yy - 7.5), 15, 15, color=f_colors[::-1][i], lw=0))
    txt(1734, yy, name, 8, ha='left')
txt(1624, 1008, 'DKO', 19.5)
txt(1686, 1008, 'WT', 19.5)

# ---- panel G
GLIM = (-4.62, 6.44)
ax = umap_axes((98, 1163, 438, 1539), (-10, 10.36), GLIM, [-10, -5, 0, 5, 10], [-4, -2, 0, 2, 4, 6])
ax.set_xticklabels(['-10', '-5', '0', '5', '10'])
ax.set_yticklabels(['-4', '-2', '0', '2', '4', '6'])
ax.tick_params(colors='#444444', labelsize=12)
G0, G1, G2, G3, GP = '#F8766D', '#1DB87A', '#A3A500', '#00A9E8', '#E76BF3'
blob(ax, g_d_n0_x, g_d_n0_y, G0, 'ooo')
blob(ax, g_d_n1_x, g_d_n1_y, G1, 'ooo')
blob(ax, g_d_n2_x, g_d_n2_y, G2, 'ooo')
blob(ax, g_d_pk_x, g_d_pk_y, GP, '.....')
pts(ax, g_d_n3_x, g_d_n3_y, G3, 9)
pts(ax, g_d_green_x, g_d_green_y, G1, 9)
pts(ax, g_d_olive_x, g_d_olive_y, G2, 9)
pts(ax, g_d_salmon_x, g_d_salmon_y, G0, 9)

ax = umap_axes((448, 1163, 788, 1539), (-10, 10.36), GLIM, [-10, -5, 0, 5, 10], [], left=False)
ax.set_xticklabels(['10', '-5', '0', '5', '10'])
ax.tick_params(colors='#444444', labelsize=12)
blob(ax, g_w_n3p_x, g_w_n3p_y, G3, 'ooo')
pts(ax, g_w_n3_x, g_w_n3_y, G3, 10)
blob(ax, g_w_n2p_x, g_w_n2p_y, G2, 'ooo')
pts(ax, g_w_n2_x, g_w_n2_y, G2, 9)
pts(ax, g_w_n1_x, g_w_n1_y, G1, 9)
pts(ax, g_w_pk_x, g_w_pk_y, GP, 9)
pts(ax, g_w_n0_x, g_w_n0_y, G0, 9)

# ---- panel H
ax = px_axes(950, 1145, 1076, 1535)
xmap(ax, 950, 1076, 982, 62.5)
ax.set_ylim(-2.1, 102.4)
for s in ax.spines.values():
    s.set_visible(False)
bot_d, bot_w = 0, 0
for i, c in enumerate(h_colors):
    ax.bar([0, 1], [h_dko[i], h_wt[i]], .86, bottom=[bot_d, bot_w], color=c, edgecolor='#3A6EA5', lw=2.2)
    bot_d += h_dko[i]
    bot_w += h_wt[i]
ax.set_xticks([])
ax.set_yticks([0, 25, 50, 75, 100], ['0-', '25-', '50-', '75-', '100-'])
ax.tick_params(axis='y', length=0, labelsize=14, pad=0)
ax.patch.set_alpha(0)


# ---- panel I
def wnt_panel(rect, c0, ylim, yt, means, lo, hi, adx, ay, by, zdx, zy, ms, zms, cap):
    ax = px_axes(*rect)
    xmap(ax, rect[0], rect[2], c0, 71.3)
    bars(ax, [0, 1], means, lo, hi, [BLUE, RED], .64, 4.5, 2, cap)
    ax.set_ylim(*ylim)
    ax.set_yticks(yt, [str(v) for v in yt])
    ax.set_xticks([0, 1, 2, 3], ['Ctrl', 'DSS', 'Ctrl', 'DSS'])
    clean(ax, lw=3, tl=13, size=21)
    ax.tick_params(axis='x', labelsize=20, pad=7)
    dots(ax, 0, adx, ay, 'o', BLUE, ms)
    dots(ax, 1, [0] * len(by), by, 's', RED, ms * .85)
    dots(ax, 2, zdx, zy, 'o', 'black', zms)
    dots(ax, 3, zdx, zy, 'o', 'black', zms)


wnt_panel((1180, 1213.6, 1490, 1522.5), 1226, (0, 15), [0, 5, 10, 15], i1_means, i1_lo, i1_hi,
          i1a_dx, i1a_y, i1b_y, cd45_dx3, cd45_y3, 10, 10, 12)
wnt_panel((1549, 1213.6, 1859, 1522.5), 1595, (0, 4), [0, 1, 2, 3, 4], i2_means, i2_lo, i2_hi,
          i2a_dx, i2a_y, i2b_y, cd45_dx4, cd45_y4, 8.5, 8.4, 12)


# ---- panel J
def violin_panel(rect, c0, sp, ylim, yt, data, zero_y):
    ax = px_axes(*rect)
    xmap(ax, rect[0], rect[2], c0, sp)
    ax.set_ylim(*ylim)
    ax.set_yticks(yt, [str(v) for v in yt])
    ax.set_xticks([0, 1], ['', ''])
    clean(ax, lw=2.5, tl=6, size=20, pad=8)
    for i, (lv, wd, px, py, zx, col) in enumerate(data):
        sl, sw = rounded(lv, wd, closed=False)
        ax.fill_betweenx(sl, i - sw, i + sw, facecolor=col, edgecolor='#444444', lw=.7, zorder=2)
        ax.plot(i + np.array(px), py, ls='', marker='s', ms=2.6, mew=0, color='black', zorder=3, clip_on=False)
        ax.plot(i + np.array(zx), [zero_y] * len(zx), ls='', marker='s', ms=4, mew=0, color='black', zorder=3)


GV, PV = '#7CAE00', '#C77CFF'
violin_panel((125, 1797, 302, 2054), 175, 83, (-.2, 4.02), [0, 1, 2, 3, 4],
             [(vl_c_d, vw_c_d, pc_c_d_x, pc_c_d_y, zero_d_x, GV),
              (vl_c_w, vw_c_w, pc_c_w_x, pc_c_w_y, zero_w_x, PV)], 0.0)
violin_panel((399, 1794, 576, 2053), 449.5, 84.5, (-.16, 3.04), [0, 1, 2, 3],
             [(vl_t_d, vw_t_d, pc_t_d_x, pc_t_d_y, zero_w_x, GV),
              (vl_t_w, vw_t_w, pc_t_w_x, pc_t_w_y, zero_w_x, PV)], -0.04)
violin_panel((695, 1796, 870, 2056), 745, 83, (-.17, 3.04), [0, 1, 2, 3],
             [(vl_j_d, vw_j_d, pc_j_d_x, pc_j_d_y, zero_d_x, GV),
              (vl_j_w, vw_j_w, pc_j_w_x, pc_j_w_y, zero_w_x, PV)], -0.08)

# ---- panel K
ax = px_axes(1049, 1773, 1311, 2034)
xmap(ax, 1049, 1311, 1123, 112)
bars(ax, [0, 1], k_means, k_lo, k_hi, [BLUE, RED], .66, 3.5, 1.5, 13)
ax.set_ylim(0, 8)
ax.set_yticks([0, 2, 4, 6, 8], ['0', '2', '4', '6', '8'])
ax.set_xticks([0, 1], ['WT', 'DKO'])
clean(ax, lw=2.5, tl=10, size=14, pad=3)
ax.tick_params(axis='x', labelsize=15, pad=6)
for t in ax.get_xticklabels() + ax.get_yticklabels():
    t.set_fontweight('bold')
dots(ax, 0, k1_dx, k1_y, '^', BLUE, 8)
dots(ax, 1, k2_dx, k2_y, 'v', RED, 8)

# ---- legends, labels, annotations on the overlay
for lx, ly1, ly2, tx in ((165, 144, 172, 201), (771, 162, 193, 808)):
    ov.plot([lx], [ly1], 'D', color='black', ms=7, mew=0)
    ov.plot([lx], [ly2], 'o', color=BLUE, ms=9.5, mew=0)
    txt(tx, ly1, '5b+/-', 18, ha='left')
    txt(tx, ly2, 'DKO', 18, ha='left')

for (tx, ty) in ((325, 15), (959, 35), (1380, 62), (1760, 58), (193, 605), (565, 612)):
    txt(tx, ty, 'Spleen', 21)

sig(159, 252, 274, '0.003', 205, 253, lw=3)
sig(412, 507, 96, '0.05', 459, 75, lw=3)
sig(773, 874, 296, '0.01', 823, 275, lw=3)
sig(1034, 1131, 138, '0.003', 1082, 117, lw=3)
sig(1338, 1428, 130, '<0.0001', 1383, 106, 18)
sig(1717, 1807, 136, '<0.0001', 1761, 112, 18)
sig(147, 238, 687, '0.0053', 192, 662, 18)
sig(520, 610, 681, '0.0049', 565, 657, 18)
sig(1230, 1301, 1276, '<0.001', 1265, 1255)
sig(1593, 1665, 1285, '0.05', 1629, 1261, 18)
sig(1138, 1202, 1810, '<0.001', 1169, 1790, 15, lw=2.5)

txt(15, 247, 'Cell/Lin$^{-}$ (%)', 21, 90)
txt(594, 242, 'Cell number', 21.5, 90)
txt(1200, 242, 'GMP/LK (%)', 21.5, 90)
txt(1489, 242, 'GMP', 21.5, 90)
txt(1526, 241, 'Cell number', 21.5, 90)
txt(27, 786, 'MKP/LK (%)', 21.5, 90)
txt(291, 788, 'MKP', 21.5, 90)
txt(328, 788, 'Cell number', 21.5, 90)

txt(982, 563, 'DKO', 23)
txt(1355, 560, 'WT', 23)
txt(1134, 1029, 'UMAP_1', 14, color='#222222')
txt(715, 788, 'UMAP_2', 14, 90, color='#222222')
txt(1522, 781, 'Percentage', 20, 90)

txt(296, 1160, 'DKO', 23)
txt(669, 1157, 'WT', 21)
txt(442, 1574, 'UMAP_1', 13, color='#444444')
txt(60, 1352, 'UMAP_2', 13, 90, color='#444444')
for x_, y_, lb in ((156, 1205, 'N3'), (212, 1360, 'N2'), (252, 1491, 'N1'), (397, 1351, 'N0'),
                   (498, 1207, 'N3'), (539, 1360, 'N2'), (589, 1491, 'N1'), (754, 1350, 'N0')):
    txt(x_, y_, lb, 18, fontweight='bold')
for y_, lb, c in ((1303, '0', h_colors[3]), (1337, '1', h_colors[2]), (1369, '2', h_colors[1]), (1404, '3', h_colors[0])):
    ov.plot([818], [y_], 'o', color=c, ms=14.5, mew=0)
    txt(848, y_, lb, 21)

txt(887, 1346, 'Percentage', 20, 90)
txt(981, 1553, 'DKO', 19)
txt(1044, 1556, 'WT', 19)

txt(1325, 1173, 'Wnt5a', 18.5, fontweight='bold', fontstyle='italic')
txt(1712, 1177, 'Wnt5b', 18.5, fontweight='bold', fontstyle='italic')
txt(1107, 1366, 'Relative mRNA expression', 15, 90, fontweight='bold')
txt(1489, 1366, 'Relative mRNA expression', 15, 90, fontweight='bold')
for x0, x1 in ((1209, 1316), (1350, 1457), (1582, 1689), (1722, 1830)):
    ov.plot([x0, x1], [1585, 1585], color='black', lw=3, solid_capstyle='butt')
for px_, cd_, pl_ in ((1252, 1410, 1386), (1625, 1782, 1759)):
    txt(px_, 1607, 'PDGFR\u03b1/PDGFR\u03b2$^{+}$', 17)
    txt(cd_, 1607, 'CD45', 17)
    txt(pl_, 1636, '+', 17)

txt(476, 1681, r'Splenic $\mathit{Pdgfr}^{+}$ Stromal Cells', 22.4)
for x_, s_ in ((232, 'Cxcl12'), (507, 'Tgfb'), (797, 'Jag1')):
    txt(x_, 1765, s_, 22, fontweight='bold', fontstyle='italic')
for x_ in (72, 346, 641):
    txt(x_, 1925, 'Expression Level', 24, 90)
for x_, y_, s_ in ((179, 2092, 'DKO'), (263, 2092, 'WT'), (452, 2092, 'DKO'), (537, 2092, 'WT'),
                   (748, 2088, 'DKO'), (832, 2088, 'WT')):
    txt(x_, y_, s_, 15, fontweight='bold')

txt(1163, 1695, r'$\mathbfit{Pdgfra/Pdgfrb}^{+}$', 19.5)
txt(1163, 1728, 'Cxcl12', 19.5, fontweight='bold', fontstyle='italic')
txt(993, 1912, 'Relative mRNA expression', 15, 90, fontweight='bold')

for x_, y_, s_ in ((13, 15, 'A'), (597, 15, 'B'), (1198, 15, 'C'), (13, 561, 'D'), (716, 560, 'E'),
                   (1517, 560, 'F'), (14, 1127, 'G'), (886, 1127, 'H'), (1102, 1127, 'I'),
                   (9, 1678, 'J'), (992, 1678, 'K')):
    txt(x_, y_, s_, 23, fontweight='bold')

fig.savefig('out.png', dpi=100)
